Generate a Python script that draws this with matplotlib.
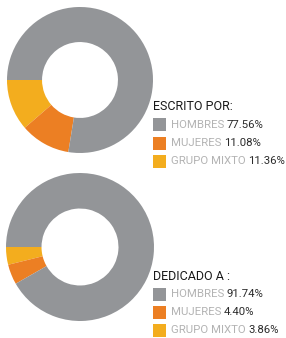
import matplotlib.pyplot as plt

W, H = 286, 338

labels = ['HOMBRES', 'MUJERES', 'GRUPO MIXTO']
colors = ['#939598', '#EC7F23', '#F3AD1E']

titles = ['ESCRITO POR:', 'DEDICADO A :']
escrito = [77.56, 11.08, 11.36]
dedicado = [91.74, 4.40, 3.86]
series = [escrito, dedicado]

plt.rcParams['font.family'] = ['Roboto', 'DejaVu Sans']

fig = plt.figure(figsize=(W / 100, H / 100), dpi=100)
fig.patch.set_facecolor('white')


def px(x, y):
    return x / W, 1 - y / H


# donut boxes in pixels: (left, top, size)
boxes = [(7, 7, 146), (6, 173, 148)]
# legend anchors: title y, first row y
legend_y = [(107, 125), (277, 294)]
row_gap = 18

renderer = fig.canvas.get_renderer()

for vals, (l, t, s), title, (ty, ry) in zip(series, boxes, titles, legend_y):
    ax = fig.add_axes([l / W, 1 - (t + s) / H, s / W, s / H])
    # draw mixto, mujeres, then hombres counterclockwise from the left
    order = [2, 1, 0]
    ax.pie([vals[i] for i in order], colors=[colors[i] for i in order],
           startangle=180, counterclock=True,
           wedgeprops=dict(width=0.48, edgecolor='none'))
    ax.set_xlim(-1, 1)
    ax.set_ylim(-1, 1)
    ax.set_aspect('auto')
    ax.axis('off')

    x0, y0 = px(153, ty)
    fig.text(x0, y0, title, fontsize=9, color='#1a1a1a', va='center', ha='left')

    for k, (lab, c, v) in enumerate(zip(labels, colors, vals)):
        yy = ry + k * row_gap
        sq = plt.Rectangle(((153) / W, 1 - (yy + 6.5) / H), 13 / W, 13 / H,
                           transform=fig.transFigure, color=c, lw=0)
        fig.patches.append(sq)
        tx, tyy = px(171, yy)
        t1 = fig.text(tx, tyy, lab, fontsize=8.2, color='#b3b3b3', va='center', ha='left')
        bb = t1.get_window_extent(renderer=renderer)
        fig.text((bb.x1 + 2.5) / W, tyy, f'{v:.2f}%', fontsize=8.2, color='#2b2b2b',
                 va='center', ha='left')

fig.savefig('out.png', dpi=100, facecolor='white')
